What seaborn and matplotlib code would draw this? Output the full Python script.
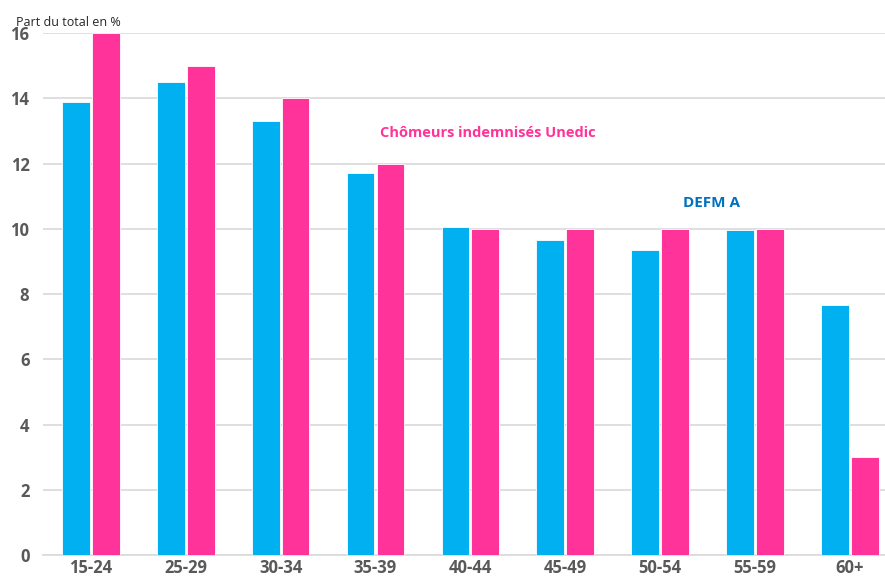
import pandas as pd
import matplotlib.pyplot as plt
import seaborn as sns

age_groups = ['15-24', '25-29', '30-34', '35-39', '40-44', '45-49', '50-54', '55-59', '60+']
defm_a = [13.9, 14.5, 13.3, 11.7, 10.05, 9.65, 9.35, 9.97, 7.67]
unedic = [16, 15, 14, 12, 10, 10, 10, 10, 3]
series_names = ['DEFM A', 'Chômeurs indemnisés Unedic']
colors = ['#00B0F0', '#FF3399']

df = pd.DataFrame({
    'age': age_groups * 2,
    'value': defm_a + unedic,
    'series': [series_names[0]] * len(age_groups) + [series_names[1]] * len(age_groups),
})

sns.set_style('white')
plt.rcParams['font.family'] = ['Open Sans', 'DejaVu Sans']

fig = plt.figure(figsize=(8.85, 5.83), dpi=100)
ax = fig.add_axes([0.049, 0.048, 0.951, 0.895])
sns.barplot(data=df, x='age', y='value', hue='series', palette=colors, saturation=1,
            width=0.63, gap=0.07, edgecolor='white', linewidth=0.6, ax=ax, legend=False,
            zorder=3)

ax.set_ylim(0, 16)
ax.set_xlim(-0.5, 8.37)
ax.set_yticks(range(0, 17, 2))
ax.yaxis.grid(True, color='#D9D9D9', linewidth=1.2, zorder=0)
ax.set_axisbelow(True)
for s in ['top', 'right', 'left']:
    ax.spines[s].set_visible(False)
ax.spines['bottom'].set_color('#D9D9D9')
ax.spines['bottom'].set_linewidth(1.2)
ax.tick_params(axis='both', length=0, labelsize=12, labelcolor='#595959')
ax.tick_params(axis='x', pad=3)
ax.tick_params(axis='y', pad=10)
for lbl in ax.get_xticklabels() + ax.get_yticklabels():
    lbl.set_fontweight('bold')
ax.set_xlabel('')
ax.set_ylabel('')

fig.text(0.018, 0.962, 'Part du total en %', fontsize=9, color='#262626', va='center')
ax.text(4.18, 12.94, 'Chômeurs indemnisés Unedic', color='#FF3399', fontsize=10.5,
        fontweight='bold', ha='center', va='center')
ax.text(6.54, 10.8, 'DEFM A', color='#0070C0', fontsize=11,
        fontweight='bold', ha='center', va='center')

fig.savefig('out.png', dpi=100)
